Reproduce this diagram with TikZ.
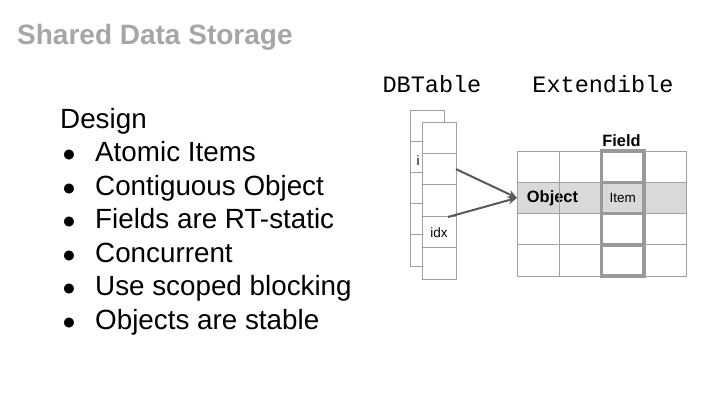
\documentclass[tikz,border=0pt]{standalone}
\usepackage{fontspec}
\setmainfont{Liberation Sans}
\setmonofont{Liberation Mono}
\usetikzlibrary{arrows.meta}
\definecolor{titlegray}{HTML}{A6A6A6}
\definecolor{linegray}{HTML}{A0A0A0}
\definecolor{thickgray}{HTML}{999999}
\definecolor{objfill}{HTML}{D9D9D9}
\definecolor{arrowgray}{HTML}{595959}
\newcommand\mybul{\makebox[35pt][l]{\hspace*{2pt}\fontsize{23}{23}\selectfont ●}}
\begin{document}
\begin{tikzpicture}[x=1pt,y=-1pt,
  dbcell/.style={draw=linegray, line width=1pt, fill=white, minimum width=34pt, minimum height=31.4pt, inner sep=0pt, outer sep=0pt, anchor=north west},
  gcell/.style={draw=linegray, line width=1pt, minimum width=42.25pt, minimum height=31.25pt, inner sep=0pt, outer sep=0pt, anchor=north west},
  fieldcell/.style={draw=thickgray, line width=3.5pt, minimum width=42.25pt, minimum height=31.25pt, inner sep=0pt, outer sep=0pt, anchor=north west},
  bodytext/.style={anchor=base west, inner sep=0pt, font=\fontsize{27.8}{33}\selectfont},
  monolabel/.style={inner sep=0pt, font=\ttfamily\fontsize{23.5}{28}\selectfont},
  smalllabel/.style={inner sep=0pt, font=\fontsize{13.5}{16}\selectfont},
  midlabel/.style={inner sep=0pt, font=\bfseries\fontsize{16.4}{20}\selectfont},
  arr/.style={draw=arrowgray, line width=2pt, -{Stealth[length=9pt,width=8pt]}}
]
\useasboundingbox (0,0) rectangle (720,405);
% title
\node[anchor=base west, inner sep=0pt, text=titlegray, font=\bfseries\fontsize{28}{33}\selectfont] (title) at (17,44) {Shared Data Storage};
% list
\node[bodytext] (design) at (60,128) {Design};
\node[bodytext] (l1) at (60,161.5) {\mybul Atomic Items};
\node[bodytext] (l2) at (60,195) {\mybul Contiguous Object};
\node[bodytext] (l3) at (60,228.5) {\mybul Fields are RT-static};
\node[bodytext] (l4) at (60,262) {\mybul Concurrent};
\node[bodytext] (l5) at (60,295.5) {\mybul Use scoped blocking};
\node[bodytext] (l6) at (60,329) {\mybul Objects are stable};
% headings
\node[monolabel] (dbt) at (432,84) {DBTable};
\node[monolabel] (ext) at (603,84) {Extendible};
% back column
\foreach \k in {0,...,4} {
  \node[dbcell, minimum height=31.2pt] (b\k) at (410,{110+31.2*\k}) {};
}
\node[smalllabel] (ilab) at (418,161) {i};
% front column
\foreach \k in {0,...,4} {
  \node[dbcell] (f\k) at (422,{122+31.4*\k}) {};
}
\node[smalllabel] (idx) at (439,233) {idx};
% grid
\fill[objfill] (517,182.25) rectangle (686,213.5);
\node[midlabel, anchor=base] (object) at (552.5,202) {Object};
\foreach \r in {0,...,3} {
  \foreach \c in {0,...,3} {
    \node[gcell] (g\r\c) at ({517+42.25*\c},{151+31.25*\r}) {};
  }
}
\foreach \r in {0,...,3} {
  \node[fieldcell] (fc\r) at ({517+42.25*2},{151+31.25*\r}) {};
}
\node[midlabel, anchor=base] (field) at (621.5,146) {Field};
\node[smalllabel] (item) at (fc1.center) {Item};
% arrows
\coordinate (idxsrc) at (448,217);
\draw[arr] (f1.east) -- (g10.west);
\draw[arr] (idxsrc) -- (g10.west);
\end{tikzpicture}
\end{document}
